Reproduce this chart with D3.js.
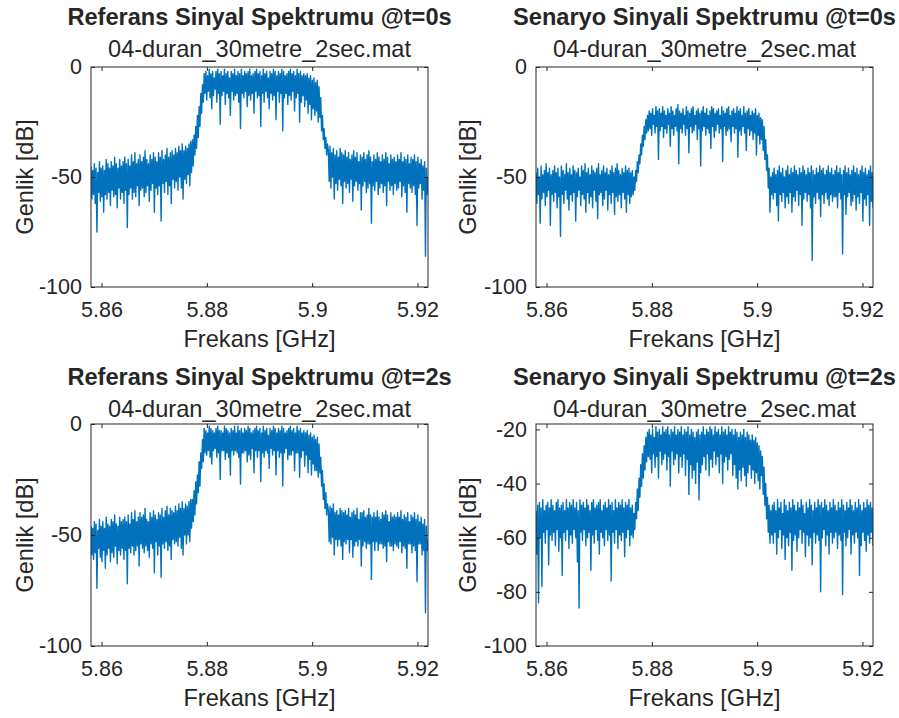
<!DOCTYPE html>
<html>
<head>
<meta charset="utf-8">
<script src="https://cdn.jsdelivr.net/npm/d3@7"></script>
<style>
  body { margin: 0; background: #fff; }
  svg { display: block; }
  text { font-family: "Liberation Sans", Arial, Helvetica, sans-serif; fill: #262626; }
</style>
</head>
<body>
<svg id="chart" width="899" height="718"></svg>
<script>
// frequency grid (GHz) - bins are evenly spaced across the span
const freqStart = 5.858;
const freqEnd = 5.922;
const freqTicks = [5.86, 5.88, 5.9, 5.92];
const freqTickLabels = ["5.86", "5.88", "5.9", "5.92"];

const ampTicksA = [0, -50, -100];
const ampTickLabelsA = ["0", "-50", "-100"];
const ampTicksB = [-20, -40, -60, -80, -100];
const ampTickLabelsB = ["-20", "-40", "-60", "-80", "-100"];

const panelTitles = [
  "Referans Sinyal Spektrumu @t=0s",
  "Senaryo Sinyali Spektrumu @t=0s",
  "Referans Sinyal Spektrumu @t=2s",
  "Senaryo Sinyali Spektrumu @t=2s"
];
const fileName = "04-duran_30metre_2sec.mat";

// amplitude values in dB
const refT0 = [
  -45,-60,-47,-58,-44,-62,-46,-75,-48,-57,-43,-61,-46,-59,-45,-66,-47,-58,-42,-60,
  -44,-57,-46,-63,-43,-56,-45,-59,-41,-58,-44,-64,-46,-55,-42,-60,-45,-57,-43,-62,
  -41,-56,-44,-73,-42,-58,-45,-55,-40,-60,-43,-57,-39,-59,-44,-54,-42,-63,-40,-56,
  -43,-55,-41,-59,-38,-57,-42,-54,-44,-61,-40,-56,-42,-53,-39,-66,-41,-55,-43,-58,
  -39,-54,-41,-70,-38,-53,-42,-57,-40,-52,-37,-58,-41,-54,-39,-62,-38,-51,-40,-55,
  -37,-52,-39,-56,-36,-50,-38,-55,-35,-60,-38,-51,-36,-53,-37,-49,-35,-54,-34,-48,
  -33,-45,-31,-40,-27,-37,-22,-32,-18,-27,-12,-21,-8,-16,
  -3,-12,-2,-15,-4,-11,-1,-14,-3,-19,-2,-13,-5,-10,-2,-16,-1,-12,-3,-26,
  -2,-13,-4,-11,-1,-17,-3,-12,-2,-14,-5,-22,-2,-11,-3,-15,-1,-13,-4,-12,
  -2,-16,-3,-28,-1,-12,-4,-14,-2,-11,-3,-18,-2,-13,-1,-15,-4,-12,-3,-21,
  -2,-11,-1,-14,-3,-13,-2,-27,-4,-12,-1,-16,-3,-11,-2,-14,-5,-19,-2,-12,
  -3,-15,-1,-13,-2,-24,-4,-11,-2,-16,-3,-12,-1,-29,-2,-14,-4,-12,-3,-17,
  -2,-13,-1,-15,-3,-11,-2,-20,-4,-14,-1,-12,-3,-25,-2,-16,-4,-13,-3,-18,
  -4,-15,-3,-21,-5,-17,-4,-24,-6,-19,-5,-22,-7,-20,-6,-25,-9,-23,
  -14,-29,-22,-33,-28,-37,-32,-40,-35,
  -38,-52,-36,-55,-39,-50,-37,-60,-40,-53,-38,-56,-41,-51,-37,-54,-39,-62,-40,-52,
  -38,-55,-41,-53,-39,-57,-42,-51,-40,-61,-38,-54,-41,-52,-39,-56,-43,-53,-40,-65,
  -41,-54,-39,-52,-42,-57,-40,-55,-38,-53,-41,-71,-43,-54,-40,-56,-42,-52,-39,-58,
  -41,-55,-43,-53,-40,-57,-42,-54,-39,-63,-41,-52,-44,-56,-40,-54,-42,-58,-41,-53,
  -43,-56,-40,-55,-42,-52,-39,-59,-43,-54,-41,-57,-42,-66,-40,-53,-44,-55,-41,-57,
  -42,-54,-40,-58,-43,-72,-41,-55,-44,-53,-42,-60,-45,-56,-43,-86,-46,-58,-50
];

const senT0 = [
  -48,-62,-46,-58,-50,-71,-45,-60,-49,-57,-47,-63,-44,-59,-48,-56,-46,-72,-49,-58,
  -47,-61,-45,-57,-48,-64,-46,-59,-50,-77,-45,-58,-47,-62,-49,-56,-44,-60,-48,-65,
  -46,-58,-49,-61,-45,-57,-47,-70,-48,-59,-46,-56,-50,-63,-45,-58,-47,-60,-44,-66,
  -48,-57,-46,-62,-49,-59,-45,-64,-47,-56,-48,-61,-46,-69,-44,-58,-49,-57,-47,-63,
  -45,-60,-48,-56,-46,-65,-49,-58,-47,-62,-45,-57,-48,-67,-46,-59,-44,-61,-47,-58,
  -49,-64,-46,-57,-48,-60,-45,-66,-47,-58,-46,-62,-48,-59,-47,
  -58,-50,-56,-47,-52,-43,-48,-40,-44,-35,-40,-31,-36,-27,-33,-24,-30,-22,-29,-20,
  -28,-21,-31,-19,-26,-22,-30,-18,-27,-20,-42,-19,-29,-21,-27,-18,-32,-20,-28,-22,
  -30,-19,-26,-21,-36,-18,-28,-20,-31,-22,-27,-19,-29,-17,-44,-20,-28,-21,-30,-19,
  -26,-22,-31,-18,-28,-20,-39,-21,-27,-19,-30,-18,-29,-22,-26,-20,-33,-19,-28,-21,
  -45,-20,-29,-18,-27,-21,-31,-19,-28,-22,-30,-20,-37,-18,-27,-19,-32,-21,-29,-20,
  -26,-19,-30,-22,-28,-18,-43,-20,-27,-21,-31,-19,-29,-18,-28,-22,-34,-20,-27,-19,
  -30,-21,-28,-18,-41,-20,-29,-19,-31,-22,-27,-18,-30,-21,-38,-20,-28,-19,-31,-22,
  -29,-20,-33,-21,-30,-19,-40,-22,-31,-21,-35,-23,-33,-24,
  -38,-27,-42,-33,-47,-40,-55,-46,-66,-50,-58,
  -48,-60,-46,-57,-49,-63,-47,-70,-45,-58,-48,-61,-46,-57,-50,-64,-47,-59,-45,-62,
  -49,-57,-46,-66,-48,-59,-45,-61,-47,-56,-49,-63,-46,-58,-48,-72,-45,-60,-47,-57,
  -49,-61,-46,-58,-48,-64,-45,-88,-47,-59,-49,-62,-46,-57,-48,-60,-45,-68,-47,-58,
  -46,-62,-49,-57,-47,-60,-45,-63,-48,-58,-46,-61,-49,-59,-47,-59,-45,-64,-48,-57,
  -46,-60,-49,-85,-47,-58,-45,-67,-48,-59,-46,-57,-49,-63,-47,-61,-45,-58,-48,-65,
  -46,-59,-49,-62,-47,-57,-45,-70,-48,-60,-46,-63,-49,-58,-47,-72,-45,-61,-48,-64
];

const refT2 = [
  -46,-59,-47,-61,-44,-58,-45,-74,-48,-56,-43,-60,-46,-62,-44,-57,-47,-65,-42,-59,
  -45,-56,-46,-62,-43,-58,-44,-60,-41,-55,-45,-63,-46,-57,-42,-59,-44,-56,-43,-61,
  -42,-57,-44,-72,-41,-56,-45,-58,-40,-55,-43,-59,-39,-57,-44,-55,-42,-64,-40,-54,
  -42,-56,-41,-58,-38,-55,-43,-57,-44,-60,-40,-54,-42,-56,-39,-67,-41,-53,-43,-59,
  -40,-55,-41,-69,-38,-54,-42,-56,-39,-53,-37,-57,-41,-55,-38,-61,-39,-52,-40,-54,
  -37,-53,-39,-55,-36,-51,-38,-56,-35,-59,-38,-50,-36,-54,-37,-50,-35,-53,-34,-47,
  -34,-44,-30,-41,-26,-36,-23,-31,-17,-28,-13,-20,-7,-17,
  -2,-13,-3,-14,-4,-12,-1,-15,-2,-18,-3,-12,-4,-11,-2,-15,-1,-13,-3,-25,
  -3,-12,-4,-12,-1,-16,-2,-13,-3,-15,-4,-23,-2,-12,-3,-14,-1,-12,-4,-13,
  -1,-15,-3,-27,-2,-13,-4,-13,-2,-12,-3,-17,-1,-14,-2,-16,-4,-11,-3,-22,
  -2,-12,-1,-15,-3,-12,-2,-26,-4,-13,-1,-15,-3,-12,-2,-13,-5,-20,-2,-11,
  -3,-14,-1,-12,-2,-23,-4,-12,-2,-15,-3,-13,-1,-28,-2,-13,-4,-11,-3,-16,
  -2,-14,-1,-14,-3,-12,-2,-21,-4,-13,-1,-13,-3,-24,-2,-15,-4,-12,-3,-19,
  -4,-14,-3,-22,-5,-16,-4,-23,-6,-18,-5,-21,-7,-21,-6,-24,-9,-22,
  -15,-28,-21,-34,-27,-38,-31,-41,-36,
  -39,-53,-37,-54,-38,-51,-36,-59,-40,-52,-39,-55,-41,-52,-38,-55,-39,-61,-40,-53,
  -39,-54,-41,-52,-38,-58,-42,-52,-40,-60,-39,-55,-41,-53,-38,-55,-43,-52,-40,-64,
  -40,-55,-39,-53,-42,-56,-41,-54,-38,-54,-41,-70,-42,-53,-40,-57,-42,-53,-39,-57,
  -42,-54,-43,-54,-40,-56,-41,-55,-39,-62,-41,-53,-44,-55,-40,-55,-42,-57,-41,-54,
  -42,-55,-40,-56,-42,-53,-39,-58,-43,-55,-41,-56,-42,-65,-40,-54,-44,-54,-41,-58,
  -42,-55,-40,-57,-43,-71,-41,-54,-44,-54,-42,-59,-45,-57,-43,-85,-46,-57,-52
];

const senT2 = [
  -50,-66,-48,-84,-47,-60,-49,-78,-46,-58,-50,-62,-48,-57,-47,-70,-49,-59,-46,-61,
  -48,-58,-50,-63,-47,-57,-46,-65,-49,-60,-48,-74,-47,-58,-50,-61,-46,-57,-49,-64,
  -47,-59,-48,-62,-46,-57,-49,-60,-47,-69,-50,-86,-46,-58,-48,-61,-47,-57,-49,-63,
  -46,-60,-48,-58,-50,-72,-47,-59,-46,-62,-49,-57,-48,-61,-47,-66,-46,-58,-50,-60,
  -48,-63,-47,-57,-49,-61,-46,-59,-48,-76,-47,-58,-50,-62,-46,-57,-49,-64,-47,-59,
  -48,-61,-46,-58,-49,-67,-47,-60,-48,-57,-46,-63,-49,-59,-48,
  -60,-51,-57,-47,-53,-42,-50,-38,-45,-33,-41,-29,-38,-26,-35,-23,-32,-21,-30,-20,
  -31,-22,-36,-20,-29,-23,-34,-19,-30,-21,-38,-20,-28,-22,-33,-19,-31,-21,-29,-20,
  -35,-19,-30,-22,-41,-20,-28,-21,-33,-19,-31,-22,-29,-20,-36,-21,-30,-19,-34,-22,
  -29,-20,-37,-21,-31,-19,-44,-22,-33,-20,-38,-21,-35,-23,-40,-21,-32,-20,-46,-22,
  -36,-21,-33,-19,-30,-22,-35,-20,-29,-21,-37,-19,-31,-20,-34,-22,-28,-19,-33,-21,
  -30,-20,-36,-22,-29,-19,-40,-21,-32,-20,-30,-22,-35,-19,-31,-21,-29,-20,-37,-22,
  -33,-20,-38,-21,-42,-23,-35,-21,-39,-22,-34,-20,-37,-23,-41,-21,-36,-22,-33,-24,
  -38,-22,-35,-24,-40,-23,-36,-25,-39,-26,-42,-28,-37,-30,
  -44,-34,-48,-40,-53,-45,-58,-48,-62,-50,-59,
  -48,-62,-47,-58,-50,-66,-46,-60,-49,-57,-47,-64,-51,-59,-46,-68,-48,-60,-50,-63,
  -47,-58,-49,-72,-46,-61,-48,-59,-50,-65,-47,-60,-49,-57,-46,-62,-48,-58,-51,-67,
  -47,-59,-49,-63,-46,-60,-48,-70,-50,-58,-47,-62,-49,-59,-46,-61,-48,-80,-47,-60,
  -49,-57,-46,-63,-48,-59,-50,-66,-47,-58,-49,-62,-46,-60,-48,-58,-50,-64,-47,-59,
  -49,-61,-46,-81,-48,-58,-50,-63,-47,-60,-49,-57,-46,-66,-48,-59,-50,-62,-47,-58,
  -49,-60,-46,-74,-48,-63,-50,-58,-47,-61,-49,-65,-46,-59,-48,-62,-47,-58,-49,-63
];

const svg = d3.select("#chart");
const lineColor = "#0072BD";
const axisColor = "#262626";
const tickFont = 21.5;
const labelFont = 23.6;

// subplot boxes (pixels)
const panels = [
  { values: refT0, title: panelTitles[0], left: 91,  top: 67,  w: 337, h: 220, yDomain: [-100, 0],  ticks: ampTicksA, labels: ampTickLabelsA, titleY: -42, subY: -10 },
  { values: senT0, title: panelTitles[1], left: 536, top: 67,  w: 337, h: 220, yDomain: [-100, 0],  ticks: ampTicksA, labels: ampTickLabelsA, titleY: -42, subY: -10 },
  { values: refT2, title: panelTitles[2], left: 91,  top: 424, w: 337, h: 222, yDomain: [-100, 0],  ticks: ampTicksA, labels: ampTickLabelsA, titleY: -39, subY: -7 },
  { values: senT2, title: panelTitles[3], left: 536, top: 424, w: 337, h: 222, yDomain: [-100, -18], ticks: ampTicksB, labels: ampTickLabelsB, titleY: -39, subY: -7 }
];

function styleAxis(sel) {
  sel.attr("color", axisColor)
    .attr("font-size", tickFont)
    .attr("font-family", "\"Liberation Sans\", Arial, sans-serif");
  sel.select(".domain").remove();
}

panels.forEach((p, k) => {
  const g = svg.append("g").attr("transform", `translate(${p.left},${p.top})`);
  const x = d3.scaleLinear().domain([freqStart, freqEnd]).range([0, p.w]);
  const y = d3.scaleLinear().domain(p.yDomain).range([p.h, 0]);
  const n = p.values.length;
  const step = (freqEnd - freqStart) / (n - 1);

  g.append("clipPath").attr("id", "clip" + k)
    .append("rect").attr("width", p.w).attr("height", p.h);

  const line = d3.line()
    .x((d, i) => x(freqStart + i * step))
    .y(d => y(d));

  g.append("path")
    .datum(p.values)
    .attr("clip-path", `url(#clip${k})`)
    .attr("fill", "none")
    .attr("stroke", lineColor)
    .attr("stroke-width", 1.4)
    .attr("stroke-linejoin", "round")
    .attr("d", line);

  // ticks point inward, on all four sides
  g.append("g").attr("transform", `translate(0,${p.h})`)
    .call(d3.axisBottom(x).tickValues(freqTicks).tickFormat((d, i) => freqTickLabels[i])
      .tickSizeInner(-4).tickSizeOuter(0).tickPadding(15))
    .call(styleAxis);
  g.append("g")
    .call(d3.axisTop(x).tickValues(freqTicks).tickFormat("").tickSizeInner(-4).tickSizeOuter(0))
    .call(styleAxis);
  g.append("g")
    .call(d3.axisLeft(y).tickValues(p.ticks).tickFormat((d, i) => p.labels[i])
      .tickSizeInner(-4).tickSizeOuter(0).tickPadding(9))
    .call(styleAxis);
  g.append("g").attr("transform", `translate(${p.w},0)`)
    .call(d3.axisRight(y).tickValues(p.ticks).tickFormat("").tickSizeInner(-4).tickSizeOuter(0))
    .call(styleAxis);

  g.append("rect")
    .attr("width", p.w).attr("height", p.h)
    .attr("fill", "none").attr("stroke", axisColor).attr("stroke-width", 1);

  g.append("text")
    .attr("x", p.w / 2).attr("y", p.titleY)
    .attr("text-anchor", "middle")
    .attr("font-size", labelFont).attr("font-weight", "bold")
    .text(p.title);
  g.append("text")
    .attr("x", p.w / 2).attr("y", p.subY)
    .attr("text-anchor", "middle")
    .attr("font-size", labelFont)
    .text(fileName);

  g.append("text")
    .attr("x", p.w / 2).attr("y", p.h + 60)
    .attr("text-anchor", "middle")
    .attr("font-size", labelFont)
    .text("Frekans [GHz]");
  g.append("text")
    .attr("transform", `translate(${k % 2 === 0 ? -58 : -60},${p.h / 2}) rotate(-90)`)
    .attr("text-anchor", "middle")
    .attr("font-size", labelFont)
    .text("Genlik [dB]");
});
</script>
</body>
</html>
